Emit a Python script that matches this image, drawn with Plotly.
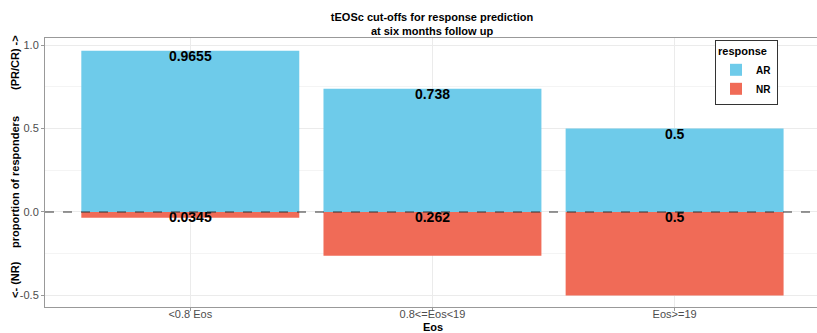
import plotly.graph_objects as go

categories = ["<0.8 Eos", "0.8<=Eos<19", "Eos>=19"]
ar_values = [0.9655, 0.738, 0.5]
nr_values = [0.0345, 0.262, 0.5]
ar_labels = ["0.9655", "0.738", "0.5"]
nr_labels = ["0.0345", "0.262", "0.5"]

AR_COLOR = "#6ECBEA"
NR_COLOR = "#F06B57"
FONT = "Liberation Sans, Arial, sans-serif"

L, R, T, B = 45, 0, 38, 26
W, H = 817, 333
PW, PH = W - L - R, H - T - B

fig = go.Figure()
fig.add_trace(go.Bar(x=categories, y=ar_values, name="AR", marker=dict(color=AR_COLOR, line=dict(width=0)), width=0.9))
fig.add_trace(go.Bar(x=categories, y=[-v for v in nr_values], name="NR", marker=dict(color=NR_COLOR, line=dict(width=0)), width=0.9))
fig.add_trace(go.Scatter(x=categories, y=ar_values, mode="text", text=ar_labels, textposition="bottom center",
                         textfont=dict(size=14, color="black", family=FONT, weight="bold"), showlegend=False, hoverinfo="skip"))
fig.add_trace(go.Scatter(x=categories, y=[0, 0, 0], mode="text", text=nr_labels, textposition="bottom center",
                         textfont=dict(size=14, color="black", family=FONT, weight="bold"), showlegend=False, hoverinfo="skip"))

fig.add_hline(y=0, line=dict(color="#333333", width=1.2, dash="dash"))

fig.update_layout(
    width=W, height=H,
    margin=dict(l=L, r=R, t=T, b=B, autoexpand=False),
    barmode="relative",
    plot_bgcolor="white", paper_bgcolor="white",
    font=dict(family=FONT, size=11, color="#4d4d4d"),
    title=dict(text="<b>tEOSc cut-offs for response prediction<br>at six months follow up</b>",
               x=432 / W, xanchor="center", y=1 - 21 / H, yanchor="middle",
               font=dict(size=11, color="black", family=FONT)),
    legend=dict(x=(715 - L) / PW, y=(H - B - 40) / PH, xanchor="left", yanchor="top",
                bordercolor="#333333", borderwidth=1, bgcolor="white",
                title=dict(text="<b>response</b>", font=dict(size=11, color="black")),
                font=dict(size=10, color="black", family=FONT, weight="bold"),
                itemwidth=30, tracegroupgap=0),
    showlegend=True,
)
fig.update_xaxes(range=[-0.6, 2.588], showgrid=True, gridcolor="#ebebeb", gridwidth=1,
                 showline=True, linecolor="#999999", linewidth=1, mirror=True,
                 ticks="outside", ticklen=3, tickcolor="#999999", automargin=False,
                 tickfont=dict(size=11, color="#4d4d4d"))
try:
    fig.update_xaxes(ticklabelstandoff=-6)
except Exception:
    pass
fig.update_yaxes(range=[-0.569, 1.042], tickvals=[-0.5, 0, 0.5, 1.0], ticktext=["-0.5", "0.0", "0.5", "1.0"],
                 showgrid=True, gridcolor="#ebebeb", gridwidth=1, zeroline=False, automargin=False,
                 minor=dict(tickvals=[-0.25, 0.25, 0.75], showgrid=True, gridcolor="#f4f4f4", gridwidth=0.6),
                 showline=True, linecolor="#999999", linewidth=1, mirror=True,
                 ticks="outside", ticklen=3, tickcolor="#999999",
                 tickfont=dict(size=11, color="#4d4d4d"))

# x-axis title
fig.add_annotation(text="<b>Eos</b>", xref="paper", yref="paper", x=(433 - L) / PW, y=(H - B - 327) / PH,
                   showarrow=False, font=dict(size=11, color="black", family=FONT), xanchor="center", yanchor="middle")

# y-axis title pieces
for txt, ypx in [("<b>(PR/CR) -></b>", 63), ("<b>proportion of responders</b>", 182), ("<b><- (NR)</b>", 280)]:
    fig.add_annotation(text=txt, xref="paper", yref="paper", x=(15 - L) / PW, y=(H - B - ypx) / PH, textangle=-90,
                       showarrow=False, font=dict(size=11, color="black", family=FONT), xanchor="center", yanchor="middle")

fig.write_html("out.html", config={"displayModeBar": False},
               post_script="document.body.style.margin='0';document.body.style.overflow='hidden';")
